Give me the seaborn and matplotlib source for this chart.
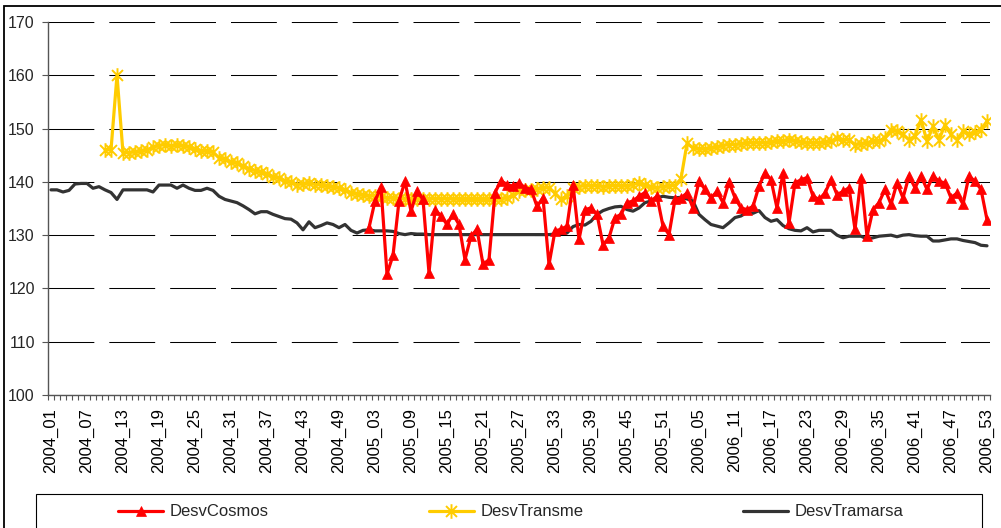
import matplotlib
matplotlib.use("Agg")
import matplotlib.pyplot as plt
import seaborn as sns
import pandas as pd
import numpy as np
from matplotlib.path import Path
from matplotlib.patches import Rectangle

# week categories 2004_01 .. 2006_53
weeks = []
for year, n_weeks in [(2004, 52), (2005, 52), (2006, 53)]:
    weeks += ["%d_%02d" % (year, w) for w in range(1, n_weeks + 1)]

nan = np.nan

desv_tramarsa = [
    138.5, 138.5, 138.1, 138.4, 139.6, 139.7, 139.7, 138.8, 139.1, 138.5,
    138.0, 136.7, 138.5, 138.5, 138.5, 138.5, 138.5, 138.1, 139.4, 139.4,
    139.4, 138.8, 139.4, 138.8, 138.4, 138.4, 138.8, 138.4, 137.3, 136.7,
    136.4, 136.1, 135.5, 134.8, 134.0, 134.4, 134.4, 133.9, 133.5, 133.1,
    133.0, 132.3, 131.0, 132.5, 131.4, 131.8, 132.3, 132.0, 131.4, 132.0,
    130.9, 130.4, 130.9, 131.0, 130.8, 130.8, 130.8, 130.7, 130.3, 130.1,
    130.3, 130.2, 130.2, 130.1, 130.1, 130.1, 130.1, 130.1, 130.1, 130.1,
    130.1, 130.1, 130.1, 130.1, 130.1, 130.1, 130.1, 130.1, 130.1, 130.1,
    130.1, 130.1, 130.1, 130.1, 130.2, 130.3, 130.4, 131.6, 132.0, 131.9,
    132.6, 133.9, 134.6, 135.0, 135.3, 135.4, 134.8, 134.5, 135.1, 136.1,
    136.4, 137.0, 137.3, 137.1, 137.0, 137.1, 136.8, 136.4, 133.9, 132.9,
    132.0, 131.7, 131.4, 132.3, 133.3, 133.6, 134.3, 134.1, 134.6, 133.3,
    132.6, 132.9, 131.8, 131.2, 130.9, 130.8, 131.4, 130.6, 130.9, 130.9,
    130.9, 130.0, 129.5, 129.8, 129.8, 129.8, 129.3, 129.5, 129.8, 129.9,
    130.0, 129.7, 130.0, 130.1, 129.9, 129.8, 129.8, 128.9, 128.9, 129.1,
    129.3, 129.3, 129.0, 128.8, 128.6, 128.1, 128.0,
]

desv_transme = [nan] * 9 + [
    146.0, 146.0, 160.0, 145.4, 145.5, 145.6, 145.7, 146.0, 146.5, 146.8, 147.0,
    146.7, 146.9, 146.8, 146.5, 146.1, 145.8, 145.7, 145.6, 144.5, 144.2,
    143.7, 143.5, 142.9, 142.5, 142.1, 141.8, 141.4, 141.0, 140.7, 140.2,
    139.9, 139.5, 139.6, 139.8, 139.5, 139.4, 139.2, 139.0, 138.9, 138.4,
    138.0, 137.7, 137.5, 137.4, 137.3, 137.2, 137.0, 136.9, 136.8, 136.8,
    136.8, 136.8, 136.8, 136.8, 136.8, 136.8, 136.8, 136.8, 136.7, 136.7,
    136.7, 136.7, 136.7, 136.7, 136.7, 136.8, 137.0, 137.5, 138.2, 138.5,
    138.5, 138.7, 138.8, 138.9, 137.9, 136.7, 137.4, 138.9, 139.1, 139.3,
    139.2, 139.3, 139.1, 139.2, 139.3, 139.2, 139.2, 139.5, 139.8, 139.4,
    139.0, 138.9, 139.1, 139.2, 139.3, 140.6, 147.2, 146.4, 146.2, 146.1,
    146.4, 146.5, 146.8, 147.0, 147.0, 147.1, 147.3, 147.3, 147.3, 147.3,
    147.4, 147.6, 147.6, 147.9, 147.7, 147.5, 147.3, 147.3, 147.3, 147.4,
    147.6, 148.2, 147.8, 147.9, 147.0, 147.1, 147.3, 147.6, 147.6, 148.3,
    149.8, 149.5, 148.9, 147.9, 148.6, 151.7, 147.6, 150.4, 147.9, 150.7,
    148.9, 147.9, 149.5, 148.9, 149.3, 149.8, 151.4,
]

desv_cosmos = [nan] * 53 + [
    131.4, 136.4, 139.0, 122.7, 126.2, 136.4, 140.1,
    134.5, 138.2, 136.7, 122.9, 134.8, 133.6, 132.0, 133.9, 132.0, 125.4,
    129.8, 131.1, 124.5, 125.4, 138.0, 140.2, 139.5, 139.2, 139.8, 138.9,
    138.6, 135.4, 137.0, 124.5, 130.8, 131.1, 131.7, 139.5, 129.2, 134.8,
    135.1, 133.9, 128.2, 129.5, 133.3, 133.9, 136.1, 136.4, 137.3, 138.0,
    136.4, 137.3, 131.7, 130.1, 136.7, 137.0, 137.9, 135.1, 140.1, 138.6,
    137.0, 138.2, 136.1, 140.0, 137.0, 135.1, 134.8, 135.4, 139.2, 141.7,
    140.4, 135.1, 141.7, 132.3, 139.8, 140.4, 140.8, 137.3, 136.7, 137.9,
    140.4, 137.6, 138.2, 138.9, 131.1, 140.8, 129.8, 134.8, 136.1, 138.6,
    135.8, 139.8, 137.0, 141.1, 138.9, 141.1, 138.6, 141.1, 140.1, 139.8,
    137.0, 137.9, 135.8, 141.1, 140.1, 138.6, 132.9,
]

df = pd.DataFrame({
    "pos": np.arange(len(weeks)),
    "week": weeks,
    "DesvCosmos": desv_cosmos,
    "DesvTransme": desv_transme,
    "DesvTramarsa": desv_tramarsa,
})

sns.set_style("white")
plt.rcParams["font.family"] = ["Liberation Sans", "DejaVu Sans"]

fig = plt.figure(figsize=(10.01, 5.28), dpi=100)
ax = fig.add_axes([48 / 1001, 1 - 395 / 528, 942 / 1001, 373 / 528])

# excel style star: x with a vertical bar
star = Path([(0, -1), (0, 1), (-0.75, -0.75), (0.75, 0.75), (-0.75, 0.75), (0.75, -0.75)],
            [Path.MOVETO, Path.LINETO] * 3)

sns.lineplot(data=df, x="pos", y="DesvTramarsa", color="#333333", lw=2.3,
             ax=ax, label="DesvTramarsa", zorder=2, estimator=None)
sns.lineplot(data=df, x="pos", y="DesvTransme", color="#FFCC00", lw=2.3,
             marker=star, ms=10.5, mec="#FFCC00", mew=1.4,
             ax=ax, label="DesvTransme", zorder=3, estimator=None)
sns.lineplot(data=df, x="pos", y="DesvCosmos", color="#FF0000", lw=2.3,
             marker="^", ms=7.5, mec="#FF0000", mew=0.5,
             ax=ax, label="DesvCosmos", zorder=4, estimator=None)

ax.set_xlim(-0.5, len(weeks) - 0.5)
ax.set_ylim(100, 170)
ax.set_yticks(range(100, 171, 10))
ax.set_xticks(df["pos"][::6])
ax.set_xticklabels(df["week"][::6], rotation=90, va="top", ha="center")
ax.set_xticks(np.arange(-0.5, len(weeks), 1), minor=True)
ax.set_xlabel("")
ax.set_ylabel("")

ax.tick_params(axis="x", which="major", length=0, pad=9.5, labelsize=12, colors="black")
ax.tick_params(axis="x", which="minor", length=3.5, width=0.8, color="#555555", direction="out")
ax.tick_params(axis="y", length=4.5, width=0.8, color="#555555", pad=5, labelsize=11.5,
               direction="out", left=True)
ax.tick_params(axis="x", bottom=True, which="both")

for side in ["top", "right"]:
    ax.spines[side].set_visible(False)
for side in ["left", "bottom"]:
    ax.spines[side].set_color("#555555")
    ax.spines[side].set_linewidth(1)

ax.yaxis.grid(True, color="black", lw=0.75, linestyle=(0, (44, 14.4)))
ax.set_axisbelow(True)

handles, labels = ax.get_legend_handles_labels()
order = [labels.index(n) for n in ["DesvCosmos", "DesvTransme", "DesvTramarsa"]]
ax.get_legend().remove()
fig.legend([handles[i] for i in order], [labels[i] for i in order],
           loc="center", bbox_to_anchor=(511 / 1001, 1 - 512 / 528), ncol=3,
           frameon=False, columnspacing=9.6, handlelength=2.7, handletextpad=0.4,
           fontsize=12)

# legend box and chart border (both run off the bottom of the image)
fig.add_artist(Rectangle((36 / 1001, -0.1), 946 / 1001, 0.1 + 34 / 528,
                         transform=fig.transFigure, fill=False, ec="black", lw=0.8))
fig.add_artist(Rectangle((3.5 / 1001, -0.1), 1.2, 0.1 + 1 - 6.5 / 528,
                         transform=fig.transFigure, fill=False, ec="black", lw=1.3))

fig.savefig("out.png", dpi=100)
